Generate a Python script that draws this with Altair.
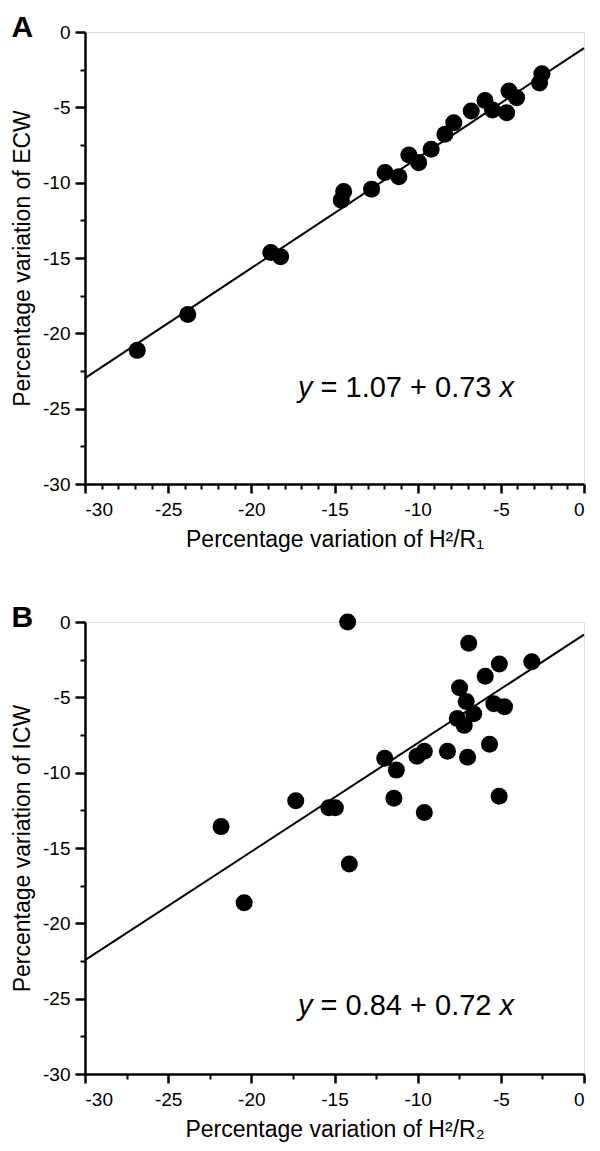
import altair as alt
import pandas as pd

FONT = "Liberation Sans"

# ---------------- data ----------------
# Panel A: ECW vs H2/R1
A_X = [-26.86, -23.82, -18.83, -18.24, -14.59, -14.45, -12.77, -11.96, -11.13,
       -10.53, -9.94, -9.19, -8.36, -7.83, -6.78, -5.95, -5.50, -4.65, -4.51,
       -4.05, -2.53, -2.67]
A_Y = [-21.13, -18.75, -14.63, -14.91, -11.16, -10.59, -10.43, -9.33, -9.60,
       -8.16, -8.67, -7.78, -6.79, -6.02, -5.25, -4.54, -5.18, -5.36, -3.92,
       -4.37, -2.78, -3.38]
# Panel B: ICW vs H2/R2
B_X = [-14.21, -6.93, -5.09, -5.94, -3.14, -7.48, -7.08, -6.63, -7.62, -7.20,
       -5.42, -4.78, -5.68, -7.00, -8.21, -9.60, -10.04, -11.98, -11.28, -11.43,
       -9.60, -5.10, -17.33, -15.34, -14.95, -14.11, -21.82, -20.43]
B_Y = [0.00, -1.41, -2.79, -3.60, -2.64, -4.36, -5.28, -6.09, -6.40, -6.86,
       -5.43, -5.63, -8.12, -8.98, -8.58, -8.58, -8.91, -9.04, -9.83, -11.70,
       -12.65, -11.57, -11.87, -12.33, -12.33, -16.06, -13.58, -18.63]

# regression lines (intercept, slope) as drawn
A_FIT = (-1.07, 0.73)
B_FIT = (-0.84, 0.72)
FIT_X = [-30, 0]

# equation labels and their anchor in data space
A_EQ = ["y", "= 1.07 + 0.73", "x"]
B_EQ = ["y", "= 0.84 + 0.72", "x"]
A_EQ_POS = (-10.7, -23.6)
B_EQ_POS = (-10.7, -25.5)

MAJOR = [-30, -25, -20, -15, -10, -5, 0]
Y_MINOR = [-27.5, -22.5, -17.5, -12.5, -7.5, -2.5]
A_X_MINOR = [v for v in range(-29, 0) if v % 5 != 0]
B_X_MINOR = [-27.5, -22.5, -17.5, -12.5, -7.5, -2.5]

W, H = 499, 452
LABEL_FS = 19
TITLE_FS = 23
EQ_FS = 29
LBL = "'' + datum.value"


def panel(letter, xs, ys, fit, eq, eq_pos, xtitle, ytitle, x_minor):
    pts = pd.DataFrame({"x": xs, "y": ys})
    line = pd.DataFrame({"x": FIT_X, "y": [fit[0] + fit[1] * v for v in FIT_X]})
    eqd = pd.DataFrame({"x": [eq_pos[0]], "y": [eq_pos[1]]})

    xs_ = alt.Scale(domain=[-30, 0], nice=False, zero=False)
    ys_ = alt.Scale(domain=[-30, 0], nice=False, zero=False)

    xmajor = alt.Axis(values=MAJOR, orient="bottom", title=xtitle, grid=False,
                      tickSize=9, tickWidth=2.5, domainWidth=2.5, domainColor="black",
                      tickColor="black", labelFont=FONT, labelFontSize=LABEL_FS,
                      labelColor="black", labelPadding=7, titleFont=FONT,
                      titleFontSize=TITLE_FS, titleFontWeight="normal",
                      titleColor="black", titlePadding=9, labelExpr=LBL)
    ymajor = alt.Axis(values=MAJOR, orient="left", title=ytitle, grid=False,
                      tickSize=10, tickWidth=2.5, domainWidth=2.5, domainColor="black",
                      tickColor="black", labelFont=FONT, labelFontSize=LABEL_FS,
                      labelColor="black", labelPadding=5, titleFont=FONT,
                      titleFontSize=TITLE_FS, titleFontWeight="normal",
                      titleColor="black", titlePadding=8, labelExpr=LBL)
    xminor = alt.Axis(values=x_minor, orient="bottom", title=None, labels=False,
                      domain=False, grid=False, tickSize=5, tickWidth=2,
                      tickColor="black")
    yminor = alt.Axis(values=Y_MINOR, orient="left", title=None, labels=False,
                      domain=False, grid=False, tickSize=5, tickWidth=2,
                      tickColor="black")

    fitline = alt.Chart(line).mark_line(color="black", strokeWidth=2).encode(
        x=alt.X("x:Q", scale=xs_, axis=xminor),
        y=alt.Y("y:Q", scale=ys_, axis=yminor),
    )
    dots = alt.Chart(pts).mark_circle(size=290, color="black", opacity=1).encode(
        x=alt.X("x:Q", scale=xs_, axis=xmajor),
        y=alt.Y("y:Q", scale=ys_, axis=ymajor),
    )
    half = EQ_FS * (5.894 / 2 + 0.278)
    enc = dict(x=alt.X("x:Q", scale=xs_, axis=None), y=alt.Y("y:Q", scale=ys_, axis=None))
    t_y = alt.Chart(eqd).mark_text(text=eq[0], font=FONT, fontSize=EQ_FS, fontStyle="italic",
                                   align="right", baseline="middle", dx=-half,
                                   color="black").encode(**enc)
    t_m = alt.Chart(eqd).mark_text(text=eq[1], font=FONT, fontSize=EQ_FS,
                                   align="center", baseline="middle",
                                   color="black").encode(**enc)
    t_x = alt.Chart(eqd).mark_text(text=eq[2], font=FONT, fontSize=EQ_FS, fontStyle="italic",
                                   align="left", baseline="middle", dx=half,
                                   color="black").encode(**enc)

    return alt.layer(fitline, dots, t_y, t_m, t_x).resolve_axis(
        x="independent", y="independent"
    ).properties(
        width=W, height=H,
        title=alt.TitleParams(text=letter, anchor="start", font=FONT, fontSize=30,
                              fontWeight="bold", color="black", offset=-20),
    )


pa = panel("A", A_X, A_Y, A_FIT, A_EQ, A_EQ_POS,
           "Percentage variation of H²/R₁", "Percentage variation of ECW", A_X_MINOR)
pb = panel("B", B_X, B_Y, B_FIT, B_EQ, B_EQ_POS,
           "Percentage variation of H²/R₂", "Percentage variation of ICW", B_X_MINOR)

chart = alt.vconcat(pa, pb, spacing=50).properties(
    padding={"left": 3, "top": 4, "right": 0, "bottom": 0}
).configure_view(stroke=None).configure(background="white")

chart.save("out.html", embed_options={"renderer": "svg", "actions": False})
